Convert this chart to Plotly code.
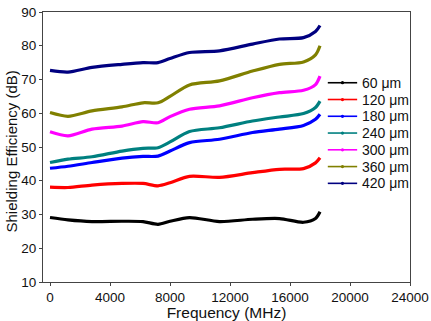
import plotly.graph_objects as go

# Frequency sweep (MHz)
freq = [0, 1200, 2800, 4800, 6200, 7200, 8000, 9300, 11300, 13500, 15300, 16900, 17700, 18000]

# Shielding efficiency (dB) for each film thickness
se_60 = [29.1, 28.4, 27.9, 28.0, 27.9, 27.1, 28.0, 29.1, 27.9, 28.6, 28.8, 27.7, 28.8, 30.8]
se_120 = [38.1, 38.0, 38.7, 39.2, 39.2, 38.5, 39.4, 41.3, 41.0, 42.4, 43.4, 43.6, 45.3, 46.8]
se_180 = [43.7, 44.3, 45.4, 46.7, 47.2, 47.3, 48.8, 51.3, 52.3, 54.3, 55.3, 56.4, 58.2, 59.7]
se_240 = [45.4, 46.4, 47.1, 48.8, 49.6, 49.8, 51.5, 54.6, 55.7, 57.7, 58.9, 59.9, 61.7, 63.6]
se_300 = [54.5, 53.3, 55.3, 56.2, 57.5, 57.2, 59.0, 61.2, 62.2, 64.6, 66.1, 66.8, 68.5, 71.0]
se_360 = [60.2, 59.1, 60.7, 61.9, 63.1, 63.1, 65.0, 68.4, 69.6, 72.5, 74.5, 75.2, 77.3, 80.0]
se_420 = [72.7, 72.2, 73.6, 74.5, 75.0, 75.0, 76.2, 78.0, 78.5, 80.5, 82.0, 82.4, 84.2, 86.0]

labels = ["60 μm", "120 μm", "180 μm", "240 μm", "300 μm", "360 μm", "420 μm"]
series = [se_60, se_120, se_180, se_240, se_300, se_360, se_420]
colors = ["#000000", "#ff0000", "#0000ff", "#008080", "#ff00ff", "#808000", "#000080"]

x_ticks = [0, 4000, 8000, 12000, 16000, 20000, 24000]
y_ticks = [10, 20, 30, 40, 50, 60, 70, 80, 90]

FONT = "Liberation Sans, Arial"

fig = go.Figure()
for name, ys, c in zip(labels, series, colors):
    fig.add_trace(go.Scatter(
        x=freq, y=ys, name=name, mode="lines", showlegend=False,
        line=dict(color=c, width=3.2, shape="spline", smoothing=0.8),
    ))

# Compact legend: short line with a centre dot, label to the right
leg_x0, leg_x1 = 0.776, 0.856      # sample line ends (paper units)
leg_top, leg_step = 0.738, 0.0621  # first row centre and row spacing
shapes, annotations = [], []
for i, (name, c) in enumerate(zip(labels, colors)):
    yy = leg_top - i * leg_step
    xm = (leg_x0 + leg_x1) / 2
    shapes.append(dict(type="line", xref="paper", yref="paper",
                       x0=leg_x0, x1=leg_x1, y0=yy, y1=yy,
                       line=dict(color=c, width=1.6)))
    shapes.append(dict(type="circle", xref="paper", yref="paper",
                       x0=xm - 0.0045, x1=xm + 0.0045, y0=yy - 0.006, y1=yy + 0.006,
                       fillcolor=c, line=dict(color=c, width=0)))
    annotations.append(dict(xref="paper", yref="paper", x=leg_x1 + 0.008, y=yy,
                            xanchor="left", yanchor="middle", text=name, showarrow=False,
                            font=dict(family=FONT, size=14, color="#111111")))

# Y-axis title as a rotated annotation beside the tick labels
annotations.append(dict(xref="paper", yref="paper", x=-0.086, y=0.485,
                        xanchor="center", yanchor="middle", textangle=-90,
                        text="Shielding Efficiency (dB)", showarrow=False,
                        font=dict(family=FONT, size=15, color="#111111")))

axis_common = dict(
    showline=True, linecolor="#444444", linewidth=1, mirror=True,
    showgrid=False, zeroline=False, automargin=False,
    ticks="outside", ticklen=3, tickcolor="#444444",
    tickfont=dict(family=FONT, size=13.5, color="#111111"),
)

fig.update_layout(
    width=431, height=321,
    margin=dict(l=43, r=21, t=12, b=39),
    paper_bgcolor="white", plot_bgcolor="white",
    font=dict(family=FONT, color="#111111"),
    xaxis=dict(range=[-467, 24000], tickvals=x_ticks,
               ticktext=[str(v) for v in x_ticks],
               title=dict(text="Frequency (MHz)", font=dict(size=15.5), standoff=8),
               **axis_common),
    yaxis=dict(range=[10, 90], tickvals=y_ticks, **axis_common),
    shapes=shapes,
    annotations=annotations,
    showlegend=False,
)

fig.write_html("out.html")
